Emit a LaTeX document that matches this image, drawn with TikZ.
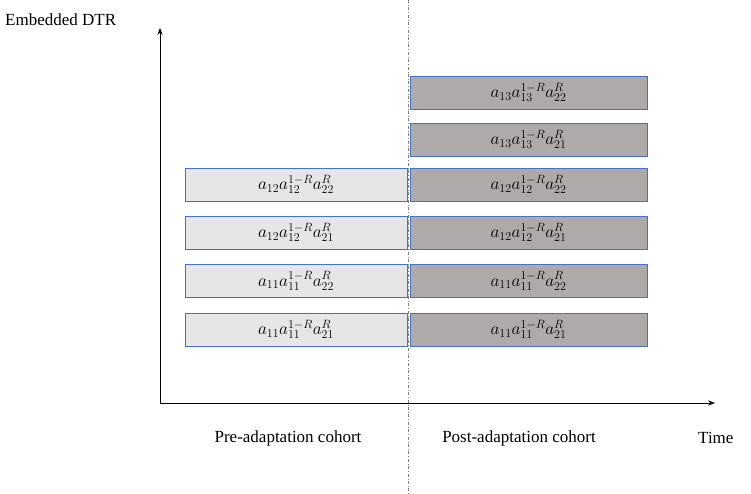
\documentclass[tikz,border=0pt]{standalone}
\usepackage{fontspec}
\setmainfont{Liberation Serif}
\usetikzlibrary{arrows.meta}
\definecolor{lightf}{HTML}{E7E6E6}
\definecolor{darkf}{HTML}{AEAAAA}
\definecolor{bord}{HTML}{4472C4}
\begin{document}
\begin{tikzpicture}[x=1pt,y=-1pt,
  boxl/.style={draw=bord,fill=lightf,line width=0.8pt,minimum width=222pt,minimum height=33pt,inner sep=0pt,font=\fontsize{17}{20}\selectfont},
  boxr/.style={draw=bord,fill=darkf,line width=0.8pt,minimum width=237pt,minimum height=33pt,inner sep=0pt,font=\fontsize{17}{20}\selectfont},
  lbl/.style={font=\fontsize{17}{20}\selectfont,inner sep=0pt}]
\useasboundingbox (0,0) rectangle (751,494);
\draw[gray,dash dot,line width=0.6pt] (408,0) -- (408,494);
\coordinate (o) at (160,403);
\coordinate (ytop) at (160,28);
\coordinate (xend) at (715,403);
\draw[line width=0.9pt,-{Stealth[length=7pt]}] (o) -- (ytop);
\draw[line width=0.9pt,-{Stealth[length=7pt]}] (o) -- (xend);
\node[lbl,anchor=west] (ylab) at (5,20) {Embedded DTR};
\node[lbl] (pre) at (288,438) {Pre-adaptation cohort};
\node[lbl] (post) at (519,438) {Post-adaptation cohort};
\node[lbl,anchor=west] (time) at (698,438) {Time};
% left
\node[boxl] (l3) at (296,184.5) {$a_{12}a_{12}^{1-R}a_{22}^{R}$};
\node[boxl] (l4) at (296,232.5) {$a_{12}a_{12}^{1-R}a_{21}^{R}$};
\node[boxl] (l5) at (296,281) {$a_{11}a_{11}^{1-R}a_{22}^{R}$};
\node[boxl] (l6) at (296,329.5) {$a_{11}a_{11}^{1-R}a_{21}^{R}$};
% right
\node[boxr] (r1) at (528.5,92.5) {$a_{13}a_{13}^{1-R}a_{22}^{R}$};
\node[boxr] (r2) at (528.5,139.5) {$a_{13}a_{13}^{1-R}a_{21}^{R}$};
\node[boxr] (r3) at (528.5,184.5) {$a_{12}a_{12}^{1-R}a_{22}^{R}$};
\node[boxr] (r4) at (528.5,232.5) {$a_{12}a_{12}^{1-R}a_{21}^{R}$};
\node[boxr] (r5) at (528.5,281) {$a_{11}a_{11}^{1-R}a_{22}^{R}$};
\node[boxr] (r6) at (528.5,329.5) {$a_{11}a_{11}^{1-R}a_{21}^{R}$};
\end{tikzpicture}
\end{document}
